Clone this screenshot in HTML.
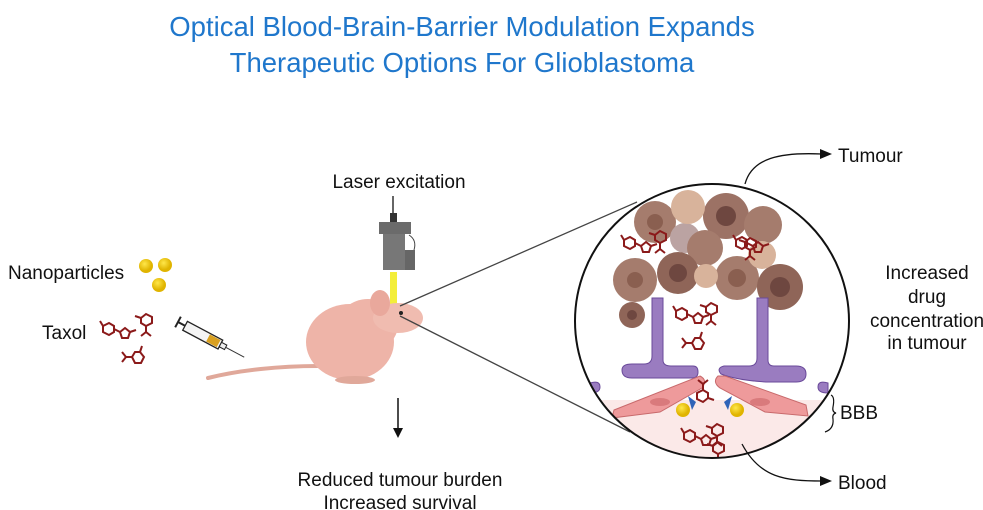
<!DOCTYPE html>
<html><head><meta charset="utf-8"><style>
html,body{margin:0;padding:0;background:#fff;}
svg{display:block;font-family:"Liberation Sans",sans-serif;}
</style></head><body>
<svg width="983" height="510" viewBox="0 0 983 510">
<defs>
<g id="tx" fill="none" stroke="#8b1a1a" stroke-width="2">
<polygon points="0,0 6,-3 11,0 11,6 6,9 0,6"/>
<line x1="11" y1="3" x2="17" y2="6"/>
<polygon points="17,6 22,2 27,6 25,12 19,12"/>
<line x1="27" y1="6" x2="33" y2="4"/>
<line x1="0" y1="0" x2="-3" y2="-5"/>
</g>
<g id="tx2" fill="none" stroke="#8b1a1a" stroke-width="2">
<polygon points="0,0 5,-4 11,-1 11,5 5,8 0,5"/>
<line x1="5" y1="8" x2="5" y2="14"/><line x1="5" y1="14" x2="0" y2="18"/><line x1="5" y1="14" x2="10" y2="18"/>
<line x1="0" y1="0" x2="-6" y2="-2"/>
</g>
<clipPath id="cc"><circle cx="712" cy="321" r="137"/></clipPath>
<radialGradient id="gp" cx="40%" cy="35%"><stop offset="0" stop-color="#ffe74a"/><stop offset="1" stop-color="#e0b400"/></radialGradient>
</defs>

<text x="462" y="36" text-anchor="middle" font-size="27.5" fill="#1f77cc">Optical Blood-Brain-Barrier Modulation Expands</text>
<text x="462" y="72" text-anchor="middle" font-size="27.5" fill="#1f77cc">Therapeutic Options For Glioblastoma</text>

<!-- left legend -->
<text x="8" y="279" font-size="19" fill="#111">Nanoparticles</text>
<circle cx="146" cy="266" r="7" fill="url(#gp)"/><circle cx="165" cy="265" r="7" fill="url(#gp)"/><circle cx="159" cy="285" r="7" fill="url(#gp)"/>
<text x="42" y="339" font-size="19" fill="#111">Taxol</text>
<use href="#tx" x="103" y="326"/><use href="#tx2" x="141" y="318"/><use href="#tx2" transform="translate(140,352) rotate(90)"/>
<!-- syringe -->
<g transform="translate(178,322) rotate(28)">
<line x1="0" y1="-6" x2="0" y2="6" stroke="#222" stroke-width="2"/>
<line x1="0" y1="0" x2="8" y2="0" stroke="#222" stroke-width="2"/>
<rect x="8" y="-5" width="40" height="10" fill="#f4f4f4" stroke="#222" stroke-width="1.3"/>
<rect x="34" y="-4" width="12" height="8" fill="#d9a020"/>
<rect x="48" y="-2.5" width="6" height="5" fill="#eee" stroke="#222"/>
<line x1="54" y1="0" x2="75" y2="0" stroke="#333" stroke-width="1"/>
</g>

<!-- laser -->
<text x="399" y="188" text-anchor="middle" font-size="19" fill="#111">Laser excitation</text>
<line x1="393" y1="196" x2="393" y2="220" stroke="#333" stroke-width="1.5"/>
<rect x="390" y="213" width="7" height="9" fill="#333"/>
<rect x="379" y="222" width="32" height="12" fill="#6b6b6b"/>
<rect x="383" y="234" width="22" height="36" fill="#777"/>
<rect x="405" y="250" width="10" height="20" fill="#666"/>
<path d="M409,235 q8,5 5,15" fill="none" stroke="#444"/>
<rect x="390" y="272" width="7" height="33" fill="#f3ee3a"/>

<!-- mouse -->
<path d="M208,378 C240,370 280,366 318,366" stroke="#e0a89a" stroke-width="4" fill="none" stroke-linecap="round"/>
<ellipse cx="350" cy="342" rx="44" ry="38" fill="#eeb4a8"/>
<ellipse cx="368" cy="325" rx="30" ry="26" fill="#eeb4a8"/>
<ellipse cx="398" cy="318" rx="25" ry="15" fill="#f0bcb0"/>
<ellipse cx="380" cy="303" rx="10" ry="13" fill="#e9a89c"/>
<ellipse cx="355" cy="380" rx="20" ry="4" fill="#e0a89a"/>
<circle cx="401" cy="313" r="2" fill="#222"/>
<!-- zoom lines -->
<line x1="400" y1="306" x2="637" y2="202" stroke="#444" stroke-width="1.3"/>
<line x1="400" y1="316" x2="630" y2="432" stroke="#444" stroke-width="1.3"/>

<!-- arrow down -->
<line x1="398" y1="398" x2="398" y2="430" stroke="#111" stroke-width="1.5"/>
<polygon points="393,428 403,428 398,438" fill="#111"/>
<text x="400" y="486" text-anchor="middle" font-size="19" fill="#111">Reduced tumour burden</text>
<text x="400" y="509" text-anchor="middle" font-size="19" fill="#111">Increased survival</text>

<!-- circle contents -->
<circle cx="712" cy="321" r="137" fill="#fff"/>
<g clip-path="url(#cc)">
<rect x="570" y="400" width="290" height="70" fill="#fbe9e8"/>
<g fill="#a57c6d">
<circle cx="655" cy="222" r="21"/><circle cx="726" cy="216" r="23" fill="#9c7265"/><circle cx="763" cy="225" r="19"/>
<circle cx="685" cy="238" r="15" fill="#bba3a2"/><circle cx="705" cy="248" r="18"/>
<circle cx="635" cy="280" r="22"/><circle cx="678" cy="273" r="21" fill="#8f6558"/><circle cx="737" cy="278" r="22"/>
<circle cx="780" cy="287" r="23" fill="#8f6558"/><circle cx="632" cy="315" r="13" fill="#8f6558"/>
</g>
<g fill="#d8b39b"><circle cx="688" cy="207" r="17"/><circle cx="706" cy="276" r="12"/><circle cx="762" cy="255" r="14"/></g>
<g fill="#6e4740"><circle cx="726" cy="216" r="10"/><circle cx="678" cy="273" r="9"/><circle cx="780" cy="287" r="10"/><circle cx="632" cy="315" r="5"/><circle cx="655" cy="222" r="8" fill="#8a5f50"/><circle cx="737" cy="278" r="9" fill="#8a5f50"/><circle cx="635" cy="280" r="8" fill="#8a5f50"/></g>
<!-- vessels -->
<g fill="#9a7cc0" stroke="#6a4a9a" stroke-width="1">
<path d="M652,298 h11 v62 q0,6 8,6 h22 q5,0 5,6 q0,6 -6,6 h-60 q-10,0 -10,-8 q0,-6 10,-6 h12 q8,0 8,-8 z"/>
<path d="M757,298 h11 v62 q0,6 6,6 h22 q10,0 10,8 q0,8 -10,8 h-30 q-30,-2 -45,-8 q-5,-6 3,-8 h25 q8,0 8,-8 z"/>
<path d="M590,383 q10,-3 10,4 q0,6 -10,6 z"/><path d="M828,383 q-10,-3 -10,4 q0,6 10,6 z"/>
</g>
<!-- endothelial cells -->
<g fill="#ee9a9b" stroke="#c86a6c" stroke-width="1">
<path d="M614,410 L700,376 q8,4 2,12 L660,412 L612,418 z"/>
<path d="M718,376 q-6,6 2,12 L765,412 L808,416 L806,405 L725,376 z"/>
</g>
<ellipse cx="660" cy="402" rx="10" ry="4" fill="#d97a7c"/><ellipse cx="760" cy="402" rx="10" ry="4" fill="#d97a7c"/>
<circle cx="683" cy="410" r="7" fill="url(#gp)"/><circle cx="737" cy="410" r="7" fill="url(#gp)"/>
<path d="M688,396 l8,6 l-4,8 z" fill="#2f63b8"/><path d="M732,396 l-8,6 l4,8 z" fill="#2f63b8"/>
<!-- taxol -->
<use href="#tx" x="624" y="240"/><use href="#tx2" x="655" y="235"/><use href="#tx2" x="745" y="242"/><use href="#tx" x="736" y="240"/>
<use href="#tx" x="676" y="311"/><use href="#tx2" x="706" y="307"/><use href="#tx2" transform="translate(700,338) rotate(90)"/>
<use href="#tx2" transform="translate(708,398) rotate(180)"/><use href="#tx" x="684" y="433"/><use href="#tx2" x="712" y="428"/><use href="#tx2" x="713" y="446"/>
</g>
<circle cx="712" cy="321" r="137" fill="none" stroke="#111" stroke-width="2"/>

<!-- right labels -->
<path d="M745,184 C752,158 780,152 822,154" fill="none" stroke="#111" stroke-width="1.3"/>
<polygon points="820,149 832,154 820,159" fill="#111"/>
<text x="838" y="162" font-size="19" fill="#111">Tumour</text>
<g font-size="19" fill="#111" text-anchor="middle">
<text x="927" y="279">Increased</text><text x="927" y="303">drug</text><text x="927" y="327">concentration</text><text x="927" y="349">in tumour</text>
</g>
<path d="M831,395 q4,2 2,12 q-1,5 3,6 q-4,1 -3,6 q1,10 -8,13" fill="none" stroke="#111" stroke-width="1.2"/>
<text x="840" y="419" font-size="19" fill="#111">BBB</text>
<path d="M742,444 C760,478 785,481 822,481" fill="none" stroke="#111" stroke-width="1.3"/>
<polygon points="820,476 832,481 820,486" fill="#111"/>
<text x="838" y="489" font-size="19" fill="#111">Blood</text>
</svg>
</body></html>
